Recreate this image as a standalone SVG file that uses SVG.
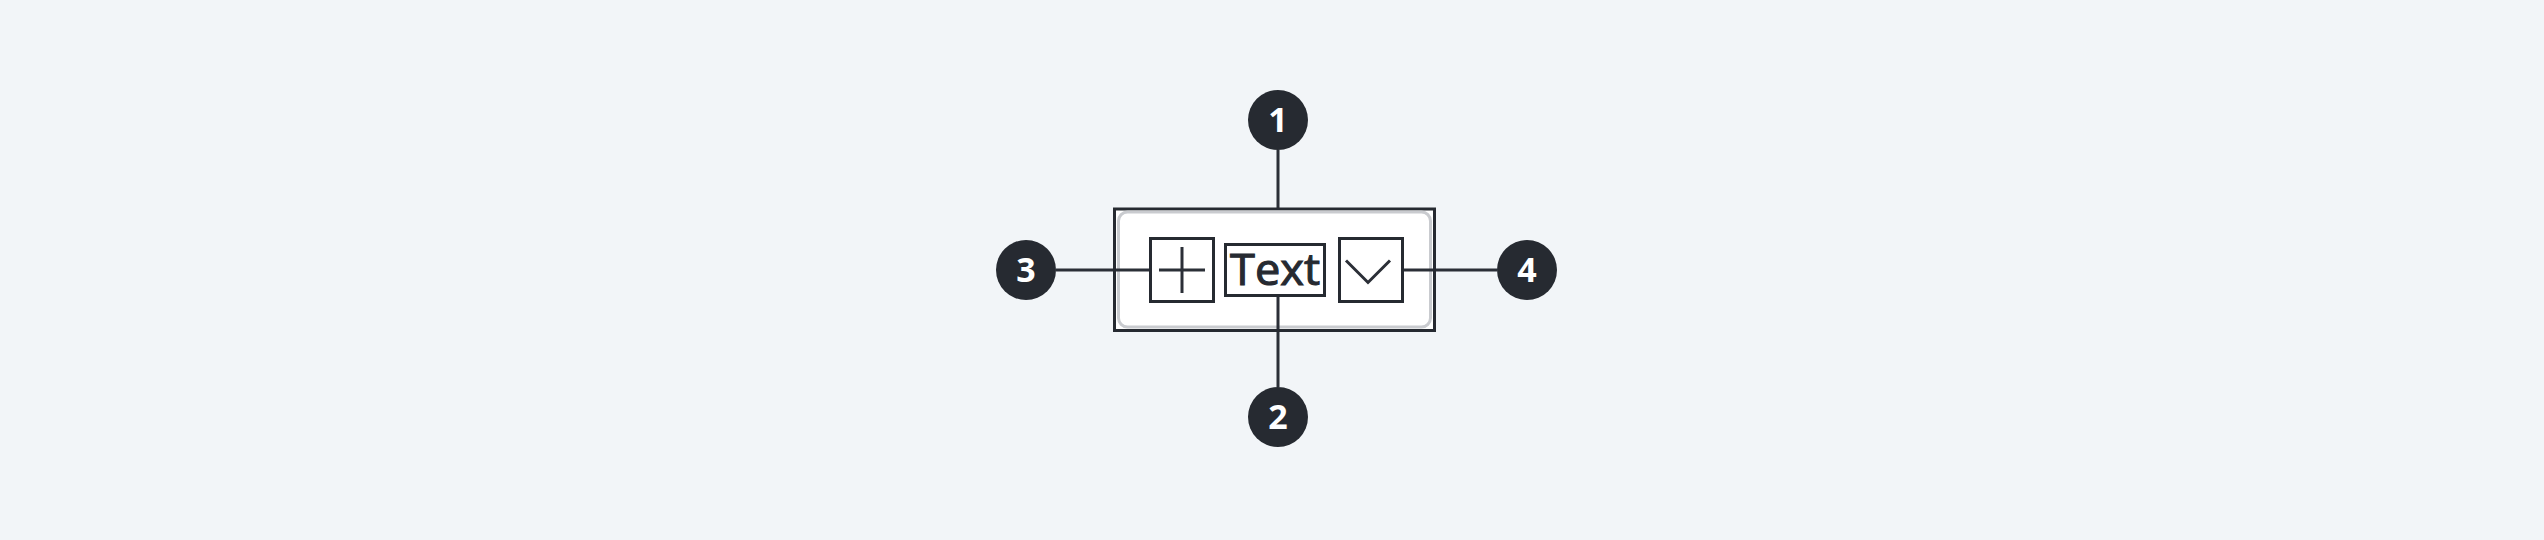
<svg xmlns="http://www.w3.org/2000/svg" width="2544" height="540" viewBox="0 0 2544 540">
<style>
.bg{fill:#f2f5f8}
.ln{stroke:#2b2f37;stroke-width:3;fill:none}
.box{stroke:#262a31;stroke-width:3;fill:#ffffff}
.icon{stroke:#2b2f37;stroke-width:3;fill:none;stroke-linecap:butt}
.badge{fill:#262a31}
.num{fill:#ffffff;font-family:"Noto Sans","Open Sans",sans-serif;font-weight:700;font-size:34px;text-anchor:middle}
.lbl{fill:#262a31;stroke:#262a31;stroke-width:1.1;font-family:"Open Sans","Noto Sans",sans-serif;font-weight:400;font-size:44px;text-anchor:middle}
</style>
<rect class="bg" x="0" y="0" width="2544" height="540"/>
<g id="connectors">
<line class="ln" x1="1278" y1="150" x2="1278" y2="209"/>
<line class="ln" x1="1278" y1="296" x2="1278" y2="387"/>
<line class="ln" x1="1056" y1="270" x2="1150" y2="270"/>
<line class="ln" x1="1403" y1="270" x2="1497" y2="270"/>
</g>
<g id="component">
<rect class="box" x="1114.5" y="209" width="320" height="121.5"/>
<rect x="1118.5" y="212" width="312" height="115" rx="9" fill="#ffffff" stroke="#c9cbcf" stroke-width="3"/>
<line class="ln" x1="1116" y1="270" x2="1150" y2="270"/>
<line class="ln" x1="1403" y1="270" x2="1433" y2="270"/>
<line class="ln" x1="1278" y1="296" x2="1278" y2="329"/>
</g>
<g id="add-icon">
<rect class="box" x="1150.5" y="238.5" width="63" height="63"/>
<line class="icon" x1="1159" y1="270" x2="1205" y2="270"/>
<line class="icon" x1="1182" y1="247" x2="1182" y2="293"/>
</g>
<g id="text-label">
<rect class="box" x="1225.5" y="244.5" width="99" height="51"/>
<text class="lbl" x="1275" y="285" textLength="90" lengthAdjust="spacingAndGlyphs">Text</text>
</g>
<g id="chevron-icon">
<rect class="box" x="1339.5" y="238.5" width="63" height="63"/>
<polyline class="icon" points="1346,260.5 1368,282.5 1390,260.5"/>
</g>
<g id="badge-1">
<circle class="badge" cx="1278" cy="120" r="30"/>
<text class="num" x="1278" y="132">1</text>
</g>
<g id="badge-2">
<circle class="badge" cx="1278" cy="417" r="30"/>
<text class="num" x="1278" y="429">2</text>
</g>
<g id="badge-3">
<circle class="badge" cx="1026" cy="270" r="30"/>
<text class="num" x="1026" y="282">3</text>
</g>
<g id="badge-4">
<circle class="badge" cx="1527" cy="270" r="30"/>
<text class="num" x="1527" y="282">4</text>
</g>
</svg>
